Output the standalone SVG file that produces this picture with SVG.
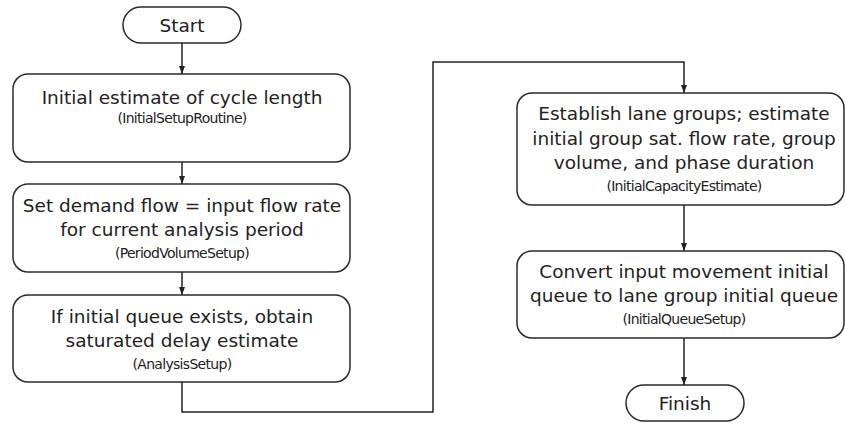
<svg xmlns="http://www.w3.org/2000/svg" width="845" height="423" viewBox="0 0 845 423">
<style>
.box{fill:#fff;stroke:#2a2a2a;stroke-width:1.5}
.t{font-family:"DejaVu Sans",Verdana,sans-serif;font-size:18.5px;fill:#222;text-anchor:middle}
.s{font-family:"DejaVu Sans",Verdana,sans-serif;font-size:14px;letter-spacing:-0.7px;fill:#222;text-anchor:middle}
.c{fill:none;stroke:#222;stroke-width:1.5}
</style>
<defs>
<marker id="ah" viewBox="0 0 8 8" refX="8" refY="4" markerWidth="8" markerHeight="8" markerUnits="userSpaceOnUse" orient="auto">
<path d="M0,1 L8,4 L0,7 Z" fill="#222"/>
</marker>
</defs>
<rect width="845" height="423" fill="#fff"/>
<g id="connectors">
<path class="c" d="M182,43 V74" marker-end="url(#ah)"/>
<path class="c" d="M182,162 V184" marker-end="url(#ah)"/>
<path class="c" d="M182,272 V295" marker-end="url(#ah)"/>
<path class="c" d="M182,382 V412 H433 V62 H684 V93" marker-end="url(#ah)"/>
<path class="c" d="M684,205 V251" marker-end="url(#ah)"/>
<path class="c" d="M684,338 V385" marker-end="url(#ah)"/>
</g>
<g id="start">
<rect class="box" x="123" y="7" width="118" height="36" rx="18"/>
<text class="t" x="182" y="32">Start</text>
</g>
<g id="initialSetup">
<rect class="box" x="13" y="74" width="337" height="88" rx="15"/>
<text class="t" x="182" y="104">Initial estimate of cycle length</text>
<text class="s" x="182" y="123">(InitialSetupRoutine)</text>
</g>
<g id="periodVolume">
<rect class="box" x="13" y="184" width="337" height="88" rx="15"/>
<text class="t" x="182" y="212">Set demand flow = input flow rate</text>
<text class="t" x="182" y="236">for current analysis period</text>
<text class="s" x="182" y="258">(PeriodVolumeSetup)</text>
</g>
<g id="analysisSetup">
<rect class="box" x="13" y="295" width="337" height="87" rx="15"/>
<text class="t" x="182" y="323">If initial queue exists, obtain</text>
<text class="t" x="182" y="347">saturated delay estimate</text>
<text class="s" x="182" y="369">(AnalysisSetup)</text>
</g>
<g id="capacityEstimate">
<rect class="box" x="517" y="93" width="327" height="112" rx="15"/>
<text class="t" x="684" y="120">Establish lane groups; estimate</text>
<text class="t" x="684" y="145">initial group sat. flow rate, group</text>
<text class="t" x="684" y="169">volume, and phase duration</text>
<text class="s" x="684" y="191">(InitialCapacityEstimate)</text>
</g>
<g id="queueSetup">
<rect class="box" x="517" y="251" width="327" height="87" rx="15"/>
<text class="t" x="684" y="278">Convert input movement initial</text>
<text class="t" x="684" y="302">queue to lane group initial queue</text>
<text class="s" x="684" y="324">(InitialQueueSetup)</text>
</g>
<g id="finish">
<rect class="box" x="626" y="385" width="118" height="36" rx="18"/>
<text class="t" x="685" y="410">Finish</text>
</g>
</svg>
